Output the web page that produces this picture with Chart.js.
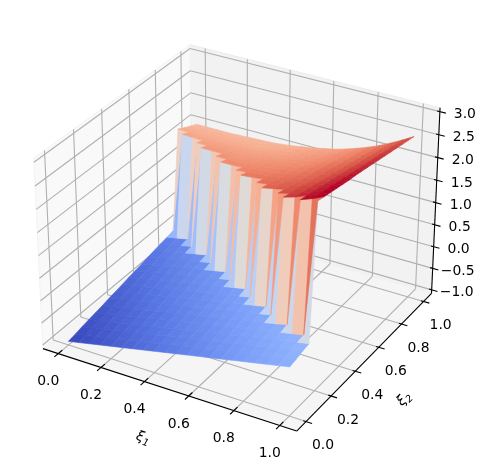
<!DOCTYPE html>
<html>
<head>
<meta charset="utf-8">
<style>
  html, body { margin: 0; padding: 0; background: #fff; }
  #wrap { width: 486px; height: 473px; }
</style>
<script src="https://cdn.jsdelivr.net/npm/chart.js@4"></script>
</head>
<body>
<div id="wrap"><canvas id="myChart" width="486" height="473"></canvas></div>
<script>
(() => {
  'use strict'

  const xi1 = [0, 0.05, 0.1, 0.15, 0.2, 0.25, 0.3, 0.35, 0.4, 0.45, 0.5, 0.55, 0.6, 0.65, 0.7, 0.75, 0.8, 0.85, 0.9, 0.95, 1]
  const xi2 = [0, 0.05, 0.1, 0.15, 0.2, 0.25, 0.3, 0.35, 0.4, 0.45, 0.5, 0.55, 0.6, 0.65, 0.7, 0.75, 0.8, 0.85, 0.9, 0.95, 1]

  // one row per xi2 value
  const zRows = [
    [-1.00, -0.95, -0.90, -0.85, -0.80, -0.75, -0.70, -0.65, -0.60, -0.55, -0.50, -0.45, -0.40, -0.35, -0.30, -0.25, -0.20, -0.15, -0.10, -0.05, 0.00],
    [-0.97, -0.92, -0.87, -0.82, -0.77, -0.72, -0.67, -0.62, -0.57, -0.52, -0.47, -0.42, -0.37, -0.32, -0.27, -0.22, -0.17, -0.12, -0.07, -0.02, 0.03],
    [-0.93, -0.88, -0.83, -0.78, -0.73, -0.68, -0.63, -0.58, -0.53, -0.48, -0.43, -0.38, -0.33, -0.28, -0.23, -0.18, -0.13, -0.08, -0.03, 0.02, 0.07],
    [-0.90, -0.85, -0.80, -0.75, -0.70, -0.65, -0.60, -0.55, -0.50, -0.45, -0.40, -0.35, -0.30, -0.25, -0.20, -0.15, -0.10, -0.05, 0.00, 0.05, 0.10],
    [-0.87, -0.82, -0.77, -0.72, -0.67, -0.62, -0.57, -0.52, -0.47, -0.42, -0.37, -0.32, -0.27, -0.22, -0.17, -0.12, -0.07, -0.02, 0.03, 0.08, 3.00],
    [-0.84, -0.79, -0.74, -0.69, -0.64, -0.59, -0.54, -0.49, -0.44, -0.39, -0.34, -0.29, -0.24, -0.19, -0.14, -0.09, -0.04, 0.02, 2.77, 2.86, 2.97],
    [-0.80, -0.75, -0.70, -0.65, -0.60, -0.55, -0.50, -0.45, -0.40, -0.35, -0.30, -0.25, -0.20, -0.15, -0.10, -0.05, 2.57, 2.64, 2.74, 2.83, 2.94],
    [-0.77, -0.72, -0.67, -0.62, -0.57, -0.52, -0.47, -0.42, -0.37, -0.32, -0.27, -0.22, -0.17, -0.12, -0.07, 2.47, 2.53, 2.61, 2.70, 2.80, 2.91],
    [-0.74, -0.69, -0.64, -0.59, -0.54, -0.49, -0.44, -0.39, -0.34, -0.29, -0.24, -0.19, -0.14, 2.33, 2.38, 2.43, 2.50, 2.57, 2.67, 2.77, 2.88],
    [-0.70, -0.65, -0.60, -0.55, -0.50, -0.45, -0.40, -0.35, -0.30, -0.25, -0.20, -0.15, 2.26, 2.29, 2.34, 2.39, 2.46, 2.54, 2.63, 2.74, 2.85],
    [-0.67, -0.62, -0.57, -0.52, -0.47, -0.42, -0.37, -0.32, -0.27, -0.22, 2.17, 2.19, 2.22, 2.25, 2.30, 2.35, 2.42, 2.50, 2.60, 2.71, 2.83],
    [-0.64, -0.59, -0.54, -0.49, -0.44, -0.39, -0.34, -0.29, -0.24, 2.10, 2.12, 2.14, 2.17, 2.20, 2.25, 2.31, 2.38, 2.46, 2.57, 2.67, 2.80],
    [-0.60, -0.55, -0.50, -0.45, -0.40, -0.35, -0.30, 2.03, 2.03, 2.04, 2.07, 2.09, 2.12, 2.16, 2.21, 2.27, 2.34, 2.43, 2.53, 2.64, 2.77],
    [-0.57, -0.52, -0.47, -0.42, -0.37, -0.32, 1.98, 1.97, 1.98, 1.99, 2.02, 2.04, 2.08, 2.11, 2.17, 2.23, 2.31, 2.39, 2.50, 2.61, 2.74],
    [-0.54, -0.49, -0.44, -0.39, 1.92, 1.92, 1.92, 1.91, 1.92, 1.94, 1.97, 1.99, 2.03, 2.07, 2.13, 2.19, 2.27, 2.36, 2.46, 2.58, 2.71],
    [-0.51, -0.46, -0.41, 1.86, 1.86, 1.86, 1.86, 1.86, 1.87, 1.89, 1.92, 1.94, 1.98, 2.02, 2.08, 2.15, 2.23, 2.32, 2.43, 2.55, 2.68],
    [-0.47, 1.81, 1.80, 1.79, 1.79, 1.80, 1.80, 1.80, 1.81, 1.83, 1.86, 1.89, 1.94, 1.98, 2.04, 2.11, 2.19, 2.28, 2.40, 2.52, 2.65],
    [1.75, 1.74, 1.73, 1.73, 1.73, 1.73, 1.74, 1.74, 1.76, 1.78, 1.81, 1.85, 1.89, 1.93, 2.00, 2.07, 2.15, 2.25, 2.36, 2.48, 2.62],
    [1.67, 1.67, 1.67, 1.66, 1.67, 1.67, 1.68, 1.68, 1.70, 1.73, 1.76, 1.80, 1.84, 1.89, 1.96, 2.03, 2.12, 2.21, 2.33, 2.45, 2.59],
    [1.60, 1.60, 1.60, 1.60, 1.60, 1.61, 1.62, 1.63, 1.65, 1.67, 1.71, 1.75, 1.80, 1.84, 1.91, 1.99, 2.08, 2.18, 2.29, 2.42, 2.56],
    [1.53, 1.53, 1.53, 1.53, 1.54, 1.55, 1.56, 1.57, 1.59, 1.62, 1.66, 1.70, 1.75, 1.80, 1.87, 1.95, 2.04, 2.14, 2.26, 2.39, 2.53]
  ]

  const xi1Ticks = [0, 0.2, 0.4, 0.6, 0.8, 1]
  const xi2Ticks = [0, 0.2, 0.4, 0.6, 0.8, 1]
  const zTicks = [-1, -0.5, 0, 0.5, 1, 1.5, 2, 2.5, 3]
  const xi1TickLabels = ['0.0', '0.2', '0.4', '0.6', '0.8', '1.0']
  const xi2TickLabels = ['0.0', '0.2', '0.4', '0.6', '0.8', '1.0']
  const zTickLabels = ['\u22121.0', '\u22120.5', '0.0', '0.5', '1.0', '1.5', '2.0', '2.5', '3.0']

  const coolwarm = [
    [59, 76, 192], [89, 119, 227], [123, 159, 249], [158, 190, 255], [192, 212, 245], [221, 220, 220],
    [242, 203, 183], [247, 172, 142], [238, 132, 104], [214, 82, 68], [180, 4, 38]
  ]
  const colorMin = -0.95
  const colorMax = 2.85

  // mplot3d view: elev 30, azim -60, dist 10
  const xiLim = [-0.0729, 1.0729]
  const zLim = [-1.0833, 3.0833]
  const boxXY = 1.1905
  const boxZ = 0.8929
  const el = 30 * Math.PI / 180
  const az = -60 * Math.PI / 180
  const w = [Math.cos(el) * Math.cos(az), Math.cos(el) * Math.sin(az), Math.sin(el)]
  const u = [-Math.sin(az), Math.cos(az), 0]
  const v = [-Math.sin(el) * Math.cos(az), -Math.sin(el) * Math.sin(az), Math.cos(el)]

  function view (a, b, z) {
    const q = [
      ((a - xiLim[0]) / (xiLim[1] - xiLim[0]) - 0.5) * boxXY,
      ((b - xiLim[0]) / (xiLim[1] - xiLim[0]) - 0.5) * boxXY,
      ((z - zLim[0]) / (zLim[1] - zLim[0]) - 0.5) * boxZ
    ]
    const dot = (p) => p[0] * q[0] + p[1] * q[1] + p[2] * q[2]
    const depth = 10 - dot(w)
    return { x: dot(u) / depth, y: dot(v) / depth, depth }
  }

  function shade (value) {
    const t = Math.min(1, Math.max(0, (value - colorMin) / (colorMax - colorMin))) * 10
    const i = Math.min(9, Math.floor(t))
    const c = coolwarm[i].map((p, k) => Math.round(p + (coolwarm[i + 1][k] - p) * (t - i)))
    return 'rgb(' + c.join(',') + ')'
  }

  function polygon (pts, color, edge, width) {
    return {
      data: pts.concat([pts[0]]).map(p => ({ x: p.x, y: p.y })),
      showLine: true,
      fill: 'shape',
      backgroundColor: color,
      borderColor: edge,
      borderWidth: width,
      pointRadius: 0,
      tension: 0
    }
  }

  function segment (a, b, color, width) {
    return {
      data: [{ x: a.x, y: a.y }, { x: b.x, y: b.y }],
      showLine: true,
      fill: false,
      borderColor: color,
      borderWidth: width,
      pointRadius: 0,
      tension: 0
    }
  }

  // surface cells, nearest first because Chart.js paints the last dataset first
  const cells = []
  for (let j = 0; j < xi2.length - 1; j++) {
    for (let i = 0; i < xi1.length - 1; i++) {
      const corners = [
        view(xi1[i], xi2[j], zRows[j][i]),
        view(xi1[i + 1], xi2[j], zRows[j][i + 1]),
        view(xi1[i + 1], xi2[j + 1], zRows[j + 1][i + 1]),
        view(xi1[i], xi2[j + 1], zRows[j + 1][i])
      ]
      const mean = (zRows[j][i] + zRows[j][i + 1] + zRows[j + 1][i + 1] + zRows[j + 1][i]) / 4
      cells.push({ corners, mean, depth: corners.reduce((s, c) => s + c.depth, 0) / 4 })
    }
  }
  cells.sort((a, b) => a.depth - b.depth)
  const surface = cells.map(c => polygon(c.corners, shade(c.mean), shade(c.mean), 0.6))

  const [lo, hi] = xiLim
  const [zlo, zhi] = zLim
  const black = '#000000'
  const gridColor = '#b0b0b0'
  const axisLines = [
    segment(view(lo, lo, zlo), view(hi, lo, zlo), black, 1.1),
    segment(view(hi, lo, zlo), view(hi, hi, zlo), black, 1.1),
    segment(view(hi, hi, zlo), view(hi, hi, zhi), black, 1.1)
  ]
  xi1Ticks.forEach(t => axisLines.push(segment(view(t, lo + 0.028, zlo), view(t, lo - 0.028, zlo), black, 1.1)))
  xi2Ticks.forEach(t => axisLines.push(segment(view(hi - 0.012, t, zlo), view(hi + 0.026, t, zlo), black, 1.1)))
  zTicks.forEach(t => axisLines.push(segment(view(hi - 0.012, hi, t), view(hi + 0.026, hi, t), black, 1.1)))

  const grid = []
  xi1Ticks.forEach(t => {
    grid.push(segment(view(t, lo, zlo), view(t, hi, zlo), gridColor, 1.1))
    grid.push(segment(view(t, hi, zlo), view(t, hi, zhi), gridColor, 1.1))
  })
  xi2Ticks.forEach(t => {
    grid.push(segment(view(hi, t, zlo), view(lo, t, zlo), gridColor, 1.1))
    grid.push(segment(view(lo, t, zlo), view(lo, t, zhi), gridColor, 1.1))
  })
  zTicks.forEach(t => {
    grid.push(segment(view(lo, lo, t), view(lo, hi, t), gridColor, 1.1))
    grid.push(segment(view(lo, hi, t), view(hi, hi, t), gridColor, 1.1))
  })

  const panes = [
    polygon([view(lo, lo, zlo), view(hi, lo, zlo), view(hi, hi, zlo), view(lo, hi, zlo)], '#f5f5f5', '#f2f2f2', 1),
    polygon([view(lo, lo, zlo), view(lo, hi, zlo), view(lo, hi, zhi), view(lo, lo, zhi)], '#f9f9f9', '#f2f2f2', 1),
    polygon([view(lo, hi, zlo), view(hi, hi, zlo), view(hi, hi, zhi), view(lo, hi, zhi)], '#f2f2f2', '#ececec', 1)
  ]

  // tick labels and the two italic axis titles
  const textPlugin = {
    id: 'axisText',
    afterDraw (chart) {
      const { ctx, scales } = chart
      const px = (p) => [scales.x.getPixelForValue(p.x), scales.y.getPixelForValue(p.y)]
      ctx.save()
      ctx.fillStyle = black
      ctx.textAlign = 'center'
      ctx.textBaseline = 'middle'
      ctx.font = '13.9px "DejaVu Sans"'
      xi1Ticks.forEach((t, i) => {
        const [x, y] = px(view(t, lo, zlo))
        ctx.fillText(xi1TickLabels[i], x - 10, y + 28)
      })
      xi2Ticks.forEach((t, i) => {
        const [x, y] = px(view(hi, t, zlo))
        ctx.fillText(xi2TickLabels[i], x + 17, y + 24)
      })
      zTicks.forEach((t, i) => {
        const [x, y] = px(view(hi, hi, t))
        ctx.fillText(zTickLabels[i], x + 25, y + 3)
      })
      const title = (x, y, angle, sub) => {
        ctx.save()
        ctx.translate(x, y)
        ctx.rotate(angle)
        ctx.font = 'italic 13.9px "DejaVu Sans"'
        ctx.fillText('\u03be', -3, 0)
        ctx.font = 'italic 9.7px "DejaVu Sans"'
        ctx.fillText(sub, 4, 4)
        ctx.restore()
      }
      title(143, 438, 18 * Math.PI / 180, '1')
      title(404, 399, -45 * Math.PI / 180, '2')
      ctx.restore()
    }
  }

  // eslint-disable-next-line no-unused-vars
  const myChart = new Chart(document.getElementById('myChart'), {
    type: 'scatter',
    data: { datasets: surface.concat(axisLines, grid, panes) },
    plugins: [textPlugin],
    options: {
      responsive: false,
      animation: false,
      events: [],
      layout: { padding: 0 },
      plugins: {
        legend: { display: false },
        tooltip: { enabled: false }
      },
      scales: {
        x: { type: 'linear', display: false, min: -240.8 / 2442, max: 245.2 / 2442 },
        y: { type: 'linear', display: false, min: -244.4 / 2430, max: 228.6 / 2430 }
      }
    }
  })
})()
</script>
</body>
</html>
